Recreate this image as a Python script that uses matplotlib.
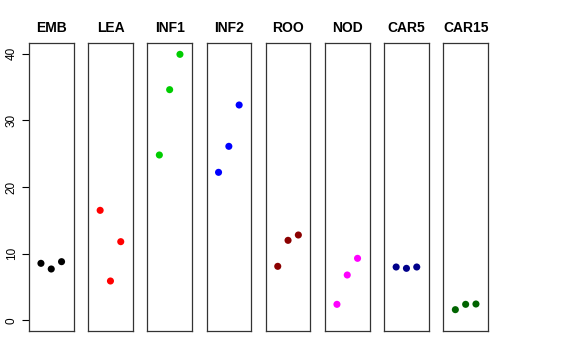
import matplotlib
matplotlib.use("Agg")
import matplotlib.pyplot as plt

plt.rcParams['font.family'] = ['Liberation Sans', 'DejaVu Sans']

# panel names, colours and the three values in each panel
groups = ["EMB", "LEA", "INF1", "INF2", "ROO", "NOD", "CAR5", "CAR15"]
colors = ["black", "red", "#00CD00", "blue", "#8B0000", "magenta", "#00008B", "#006400"]
values = [
    [8.55, 7.7, 8.8],
    [16.5, 5.9, 11.8],
    [24.8, 34.6, 39.9],
    [22.2, 26.1, 32.3],
    [8.1, 12.0, 12.8],
    [2.4, 6.8, 9.3],
    [8.0, 7.8, 8.0],
    [1.6, 2.4, 2.45],
]
xpos = [1, 2, 3]
yticks = [0, 10, 20, 30, 40]

W, H = 576, 360
fig = plt.figure(figsize=(W / 100, H / 100), dpi=100)

left0 = 29.0
pw = 44.5
step = 59.2
top_px, bot_px = 43.0, 331.0

for i, (name, col, vals) in enumerate(zip(groups, colors, values)):
    x0 = left0 + i * step
    ax = fig.add_axes([x0 / W, (H - bot_px) / H, pw / W, (bot_px - top_px) / H])
    ax.scatter(xpos, vals, s=26, color=col, edgecolors='none', zorder=3)
    ax.set_xlim(-0.16, 4.16)
    ax.set_ylim(-1.6, 41.6)
    ax.set_xticks([])
    for sp in ax.spines.values():
        sp.set_color("#333333")
        sp.set_linewidth(0.9)
    ax.set_title(name, fontsize=10, fontweight='bold', pad=8)
    if i == 0:
        ax.set_yticks(yticks)
        ax.set_yticklabels([str(t) for t in yticks], rotation=90, va='center', fontsize=8.5)
        ax.tick_params(axis='y', length=5, width=0.8, pad=3)
    else:
        ax.set_yticks([])

fig.savefig("out.png", dpi=100)
